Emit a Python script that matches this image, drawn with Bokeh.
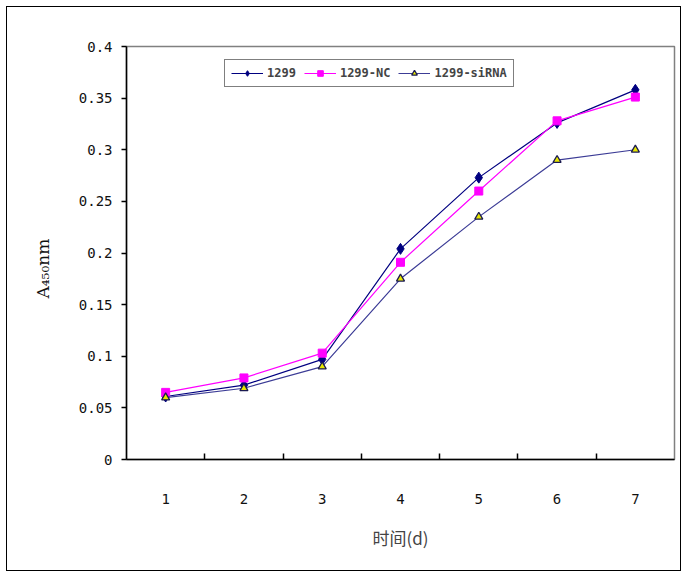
from bokeh.plotting import figure
from bokeh.models import FixedTicker, Legend, LegendItem, Title
from bokeh.embed import file_html
from bokeh.resources import INLINE

days = [1, 2, 3, 4, 5, 6, 7]
s_1299 = [0.061, 0.072, 0.097, 0.204, 0.273, 0.326, 0.358]
s_nc = [0.065, 0.079, 0.103, 0.191, 0.260, 0.328, 0.351]
s_sirna = [0.060, 0.069, 0.090, 0.175, 0.235, 0.290, 0.300]
names = ["1299", "1299-NC", "1299-siRNA"]
y_ticks = [0, 0.05, 0.1, 0.15, 0.2, 0.25, 0.3, 0.35, 0.4]
y_tick_labels = ["0", "0.05", "0.1", "0.15", "0.2", "0.25", "0.3", "0.35", "0.4"]
x_label = "时间(d)"
y_label = "A₄₅₀nm"

p = figure(frame_width=548, frame_height=413, x_range=(0.5, 7.5), y_range=(0, 0.4),
           output_backend="svg", toolbar_location=None,
           min_border_left=119, min_border_right=6, min_border_top=39, min_border_bottom=111)
p.styles = {"border": "1.5px solid black", "margin-left": "6px", "margin-top": "6px"}
p.xgrid.visible = False
p.ygrid.visible = False
p.outline_line_color = "#808080"
p.outline_line_width = 1.5

tick_font = "DejaVu Sans Mono"
# x axis
p.xaxis.ticker = FixedTicker(ticks=days, minor_ticks=[d + 0.5 for d in days[:-1]])
p.xaxis.major_tick_line_color = None
p.xaxis.minor_tick_in = 6
p.xaxis.minor_tick_out = 0
p.xaxis.minor_tick_line_color = "black"
p.xaxis.minor_tick_line_width = 1.5
p.xaxis.major_label_standoff = 28
p.xaxis.axis_label = x_label
p.xaxis.axis_label_text_font = "Noto Sans CJK SC"
p.xaxis.axis_label_text_font_style = "normal"
p.xaxis.axis_label_text_font_size = "17px"
p.xaxis.axis_label_standoff = 18
# y axis
p.yaxis.ticker = FixedTicker(ticks=y_ticks)
p.yaxis.major_label_overrides = {t: l for t, l in zip(y_ticks, y_tick_labels)}
p.yaxis.minor_tick_line_color = None
p.yaxis.major_tick_in = 0
p.yaxis.major_tick_out = 5
p.yaxis.major_tick_line_width = 1.5
p.yaxis.major_label_standoff = 9
for ax in (p.xaxis, p.yaxis):
    ax.axis_line_width = 1.5
    ax.axis_line_color = "black"
    ax.major_label_text_font = tick_font
    ax.major_label_text_font_size = "14px"
    ax.major_label_text_color = "#111111"

ytitle = Title(text=y_label, align="left", offset=161, standoff=45,
               text_font="DejaVu Serif", text_font_size="17px",
               text_font_style="normal", text_color="#111111")
p.add_layout(ytitle, "left")

l1 = p.line(days, s_1299, line_color="#000080", line_width=1.2)
m1 = p.scatter(days, s_1299, marker="diamond", size=11, fill_color="#000080", line_color="#000080")
l2 = p.line(days, s_nc, line_color="#FF00FF", line_width=1.2)
m2 = p.scatter(days, s_nc, marker="square", size=8, fill_color="#FF00FF", line_color="#FF00FF")
l3 = p.line(days, s_sirna, line_color="#3C3C96", line_width=1.2)
m3 = p.scatter(days, s_sirna, marker="triangle", size=8, fill_color="#E6E600", line_color="#1A1A50", line_width=1.3)

legend = Legend(items=[LegendItem(label=names[0], renderers=[l1, m1]),
                       LegendItem(label=names[1], renderers=[l2, m2]),
                       LegendItem(label=names[2], renderers=[l3, m3])],
                orientation="horizontal", location=(98, 372),
                border_line_color="black", border_line_width=1.5,
                label_text_font="DejaVu Sans Mono", label_text_font_size="12px",
                label_text_font_style="bold",
                glyph_width=32, glyph_height=14, label_standoff=4, spacing=8,
                padding=6, margin=0, label_height=14)
p.add_layout(legend)

open("out.html", "w").write(file_html(p, INLINE))
